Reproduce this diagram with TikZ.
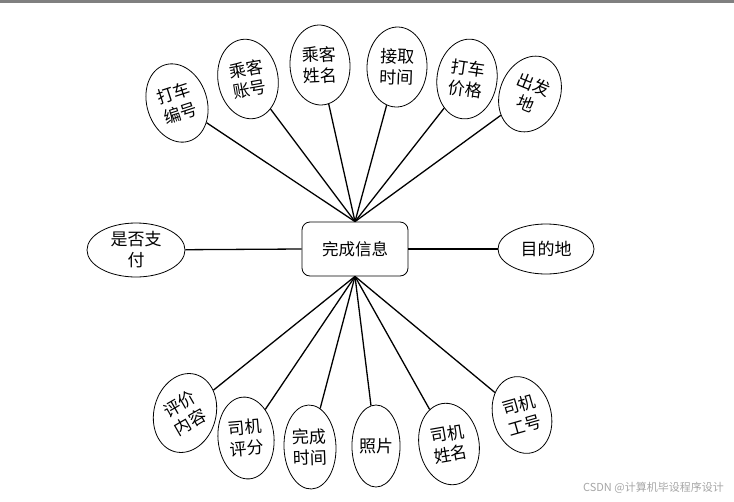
\documentclass[tikz,border=0pt]{standalone}
\usepackage{fontspec}
\setmainfont{Noto Sans CJK SC}
\usetikzlibrary{shapes.geometric}

\begin{document}
\begin{tikzpicture}[
  x=1pt, y=1pt,
  attr/.style={draw, ellipse, line width=0.8pt, inner sep=0pt,
    minimum width=60pt, minimum height=80pt, align=center,
    font=\fontsize{17}{21}\selectfont},
  entity/.style={draw, rounded corners=8pt, line width=0.8pt,
    minimum width=106pt, minimum height=54pt,
    font=\fontsize{16.5}{20}\selectfont},
  link/.style={line width=1.3pt}
]
\useasboundingbox (0,0) rectangle (734,-501);
\fill[gray] (0,0) rectangle (734,-3);

% entity
\node[entity] (info) at (355,-249) {完成信息};

% attributes above
\node[attr, rotate=18] (bh) at (177,-103) {打车\\编号};
\node[attr, rotate=10] (zh) at (248,-79) {乘客\\账号};
\node[attr, rotate=3] (xm) at (320,-65) {乘客\\姓名};
\node[attr, rotate=-2] (jq) at (397,-67) {接取\\时间};
\node[attr, rotate=-8] (jg) at (467,-79) {打车\\价格};
\node[attr, rotate=-22, minimum height=78pt] (cf) at (530,-94) {出发\\地};

% attributes at the sides
\node[attr, minimum width=98pt, minimum height=54pt] (zf) at (136,-250) {是否支\\付};
\node[attr, minimum width=96pt, minimum height=50pt] (md) at (546,-249) {目的地};

% attributes below
\node[attr, rotate=-15, minimum width=62pt] (pj) at (185,-413) {};
\node[rotate=30, align=center, font=\fontsize{17}{21}\selectfont] (pjtext) at (pj) {评价\\内容};
\node[attr, rotate=5, minimum width=56pt, minimum height=82pt] (pf) at (246,-438) {司机\\评分};
\node[attr, rotate=2, minimum width=52pt, minimum height=84pt] (wc) at (310,-447) {完成\\时间};
\node[attr, minimum width=46pt, minimum height=82pt] (zp) at (376,-446) {照片};
\node[attr, rotate=10, minimum width=60pt, minimum height=82pt] (sm) at (449,-444) {司机\\姓名};
\node[attr, rotate=16, minimum width=58pt, minimum height=78pt] (gh) at (522,-415) {司机\\工号};

\foreach \n in {bh,zh,xm,jq,jg,cf}
  \draw[link] (info.north) -- (\n);
\foreach \n in {pj,pf,wc,zp,sm,gh}
  \draw[link] (info.south) -- (\n);
\draw[link] (info.west) -- (zf);
\draw[link] (info.east) -- (md);

\node[anchor=east, text=gray!70, font=\fontsize{11}{13}\selectfont, inner sep=0pt] (mark) at (724,-488) {CSDN @计算机毕设程序设计};
\end{tikzpicture}
\end{document}
